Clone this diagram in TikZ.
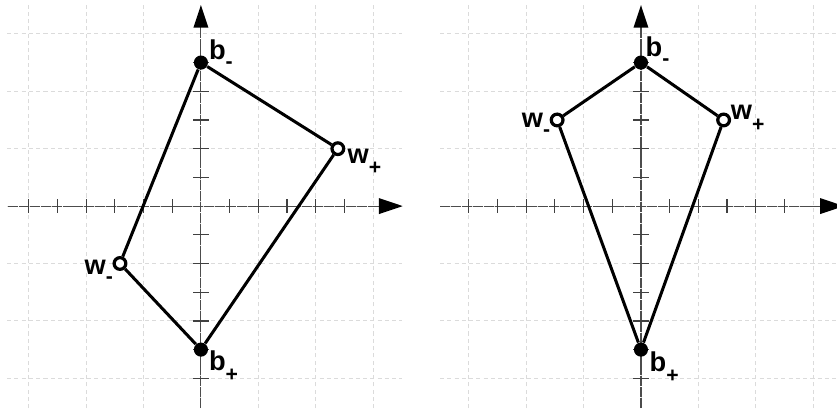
\documentclass[tikz,border=0pt]{standalone}
\usepackage{fontspec}
\setmainfont{Liberation Sans}
\newcommand{\lsubm}[1]{\raisebox{-4.5pt}{\fontsize{10.5}{10.5}\selectfont #1}}
\newcommand{\lsubp}[1]{\raisebox{-5.5pt}{\fontsize{10.5}{10.5}\selectfont #1}}
\begin{document}
\begin{tikzpicture}[x=0.5cm,y=0.5cm,
  gridline/.style={gray!28, line width=0.45pt, dash pattern=on 2pt off 1.6pt},
  axisline/.style={gray!60!black, line width=0.55pt, dash pattern=on 5pt off 0.4pt},
  tickmark/.style={gray!50!black, line width=0.6pt},
  arrowhead/.style={fill=black},
  bdot/.style={circle, fill=black, inner sep=0pt, minimum size=7pt},
  wdot/.style={circle, draw=black, fill=white, line width=1.6pt, inner sep=0pt, minimum size=5.8pt},
  edge/.style={black, line width=1.5pt},
  lab/.style={font=\fontsize{13.5}{14}\selectfont\bfseries, inner sep=0pt}]
\useasboundingbox (-7,-7.04) rectangle (22.16,7.18);
\fill[white] (-7,-7.04) rectangle (22.16,7.18);

% ---------- left panel ----------
\draw[gridline] (-6.75,-7.04) grid (7,7);
\draw[axisline] (-6.72,0) -- (6.22,0);
\draw[axisline] (0,-7.04) -- (0,6.25);
\fill[arrowhead] (6.2,0.28) -- (7.03,0) -- (6.2,-0.28) -- cycle;
\fill[arrowhead] (-0.26,6.22) -- (0,7.0) -- (0.26,6.22) -- cycle;
\foreach \t in {-6,...,-1,1,2,3,4,5} {
  \draw[tickmark] (\t,-0.24) -- (\t,0.24);
  \draw[tickmark] (-0.27,\t) -- (0.27,\t);
}
\node[bdot] (bmL) at (0,5) {};
\node[wdot] (wpL) at (4.77,2) {};
\node[wdot] (wmL) at (-2.82,-2) {};
\node[bdot] (bpL) at (0,-5) {};
\draw[edge] (bmL) -- (wpL);
\draw[edge] (wpL) -- (bpL);
\draw[edge] (bpL) -- (wmL);
\draw[edge] (wmL) -- (bmL);
\node[lab, anchor=base west] (lbmL) at ([shift={(0.27,0.12)}]bmL.center) {b\lsubm{-}};
\node[lab, anchor=base west] (lwpL) at ([shift={(0.33,-0.52)}]wpL.center) {w\lsubp{+}};
\node[lab, anchor=base east] (lwmL) at ([shift={(-0.23,-0.37)}]wmL.center) {w\lsubm{-}};
\node[lab, anchor=base west] (lbpL) at ([shift={(0.27,-0.72)}]bpL.center) {b\lsubp{+}};

% ---------- right panel ----------
\begin{scope}[xshift=7.665cm]
\draw[gridline] (-7,-7.04) grid (7.5,7);
\draw[axisline] (-7,0) -- (6.26,0);
\draw[axisline] (0,-7.04) -- (0,6.25);
\fill[arrowhead] (6.24,0.28) -- (7.07,0) -- (6.24,-0.28) -- cycle;
\fill[arrowhead] (-0.26,6.22) -- (0,7.0) -- (0.26,6.22) -- cycle;
\foreach \t in {-6,...,-1,1,2,3,4,5} {
  \draw[tickmark] (\t,-0.24) -- (\t,0.24);
  \draw[tickmark] (-0.27,\t) -- (0.27,\t);
}
\node[bdot] (bmR) at (0,5) {};
\node[wdot] (wmR) at (-2.92,3) {};
\node[wdot] (wpR) at (2.88,3) {};
\node[bdot] (bpR) at (0,-5) {};
\draw[edge] (bmR) -- (wpR);
\draw[edge] (wpR) -- (bpR);
\draw[edge] (bpR) -- (wmR);
\draw[edge] (wmR) -- (bmR);
\node[lab, anchor=base west] (lbmR) at ([shift={(0.15,0.21)}]bmR.center) {b\lsubm{-}};
\node[lab, anchor=base east] (lwmR) at ([shift={(-0.23,-0.25)}]wmR.center) {w\lsubm{-}};
\node[lab, anchor=base west] (lwpR) at ([shift={(0.24,0.0)}]wpR.center) {w\lsubp{+}};
\node[lab, anchor=base west] (lbpR) at ([shift={(0.29,-0.75)}]bpR.center) {b\lsubp{+}};
\end{scope}
\end{tikzpicture}
\end{document}
